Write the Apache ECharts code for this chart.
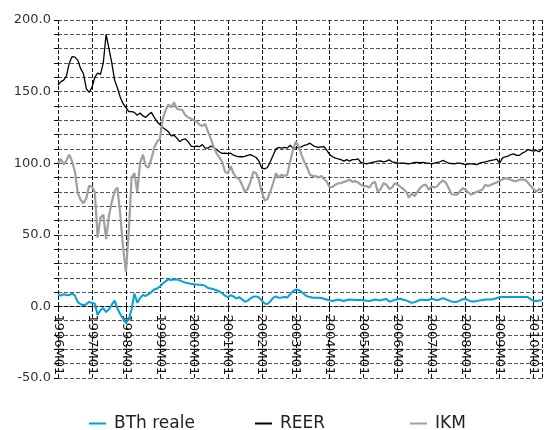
<!DOCTYPE html>
<html>
<head>
<meta charset="utf-8">
<script src="https://cdn.jsdelivr.net/npm/echarts@6/dist/echarts.min.js"></script>
<style>html,body{margin:0;padding:0;background:#fff;}#c{width:547px;height:430px;}</style>
</head>
<body>
<div id="c"></div>
<script>
// Monthly categories 1996M01 .. 2010M04
var startYear = 1996, endYear = 2010, endMonth = 4;
var categories = [];
for (var y = startYear; y <= endYear; y++) {
  for (var m = 1; m <= 12; m++) {
    if (y === endYear && m > endMonth) break;
    categories.push(y + 'M' + (m < 10 ? '0' + m : m));
  }
}

var bthReale = [
  8.2, 7.5, 8.5, 8, 7.8, 8.9, 7.5, 3, 1.5, 0.8, 1.5, 3.2,
  2.3, 2, -6, -2.5, -1.2, -4, -2, 1.2, 4, -1.5, -5.5, -8.5,
  -11.5, -9, -2, 9, 2.5, 5.8, 8, 7.3, 8.5, 10, 11.8, 12.5,
  13.8, 16, 17.5, 19, 18.5, 19, 18.8, 18.2, 17.3, 16.6, 16.2, 15.8,
  15.5, 15.3, 15.2, 15, 14.3, 12.8, 12.5, 12, 11.3, 10.5, 9.3, 7.5,
  6.5, 7.8, 7, 5.5, 6.5, 5, 3.2, 4, 5.5, 6.8, 7, 6.2,
  4, 2, 1.6, 3.5, 6, 7, 6, 6.2, 6.5, 6.2, 8.4, 10.5,
  11.8, 11.5, 10.2, 8.5, 7, 6.5, 6, 6, 6, 5.8, 5.3, 4.6,
  4.2, 3.8, 4.3, 4.8, 4.3, 3.8, 4.5, 4.8, 4.6, 4.4, 4.4, 4.5,
  4.3, 4, 3.7, 4.3, 4.8, 4.5, 4.3, 4.8, 5.2, 3.5, 3.8, 4.7,
  5, 5.3, 4.6, 4.2, 3.3, 2.5, 3, 3.8, 4.6, 4.6, 4.3, 4.7,
  5.3, 4.8, 4.3, 5, 5.8, 5, 4.2, 3.5, 3, 3.3, 4, 5,
  5.2, 4.2, 3.5, 3.5, 3.8, 4.2, 4.5, 4.8, 4.8, 4.8, 5.2, 5.8,
  6.3, 6.5, 6.5, 6.5, 6.5, 6.5, 6.5, 6.5, 6.5, 6.5, 6.5, 5,
  3.8, 3.8, 4.2, 4.2
];

var reer = [
  154.5, 157, 158, 161, 170, 174.5, 174, 172, 166, 162.5, 152, 149.5,
  153, 160, 163, 162, 170, 190, 180, 170, 158, 152.5, 146, 141.5,
  139, 136, 136, 135.5, 133.5, 135, 133, 132, 134, 135.5, 132, 129,
  127, 125, 123.5, 122, 119, 119.5, 117.5, 115, 116.5, 117, 115, 112,
  111.6, 112, 111.5, 113, 110.5, 110.5, 112, 111, 109.5, 108, 106.8, 107,
  106.7, 107, 105.6, 105, 104.5, 104.5, 104.7, 105.5, 106, 105, 104, 101.5,
  96.5, 96, 97, 101, 105.5, 110, 111, 110.5, 111, 110.5, 112.5, 110.5,
  110.7, 111, 111.4, 112.5, 113, 114, 112.5, 111.5, 111, 111.4, 111.5, 109,
  106, 104.5, 103.5, 103, 102.5, 101.5, 102.5, 101.5, 102.5, 102.5, 103, 100.5,
  100, 99.5, 100, 100.5, 101, 101.5, 101.6, 101, 101.5, 102.3, 101, 100.5,
  100, 100, 100, 99.8, 99.5, 100, 100.5, 100.5, 100.3, 100.5, 100, 100,
  99.5, 100, 100.5, 101, 102, 101, 100, 99.8, 99.5, 100, 100, 99.5,
  99, 99.5, 99.5, 99.3, 99, 100, 100.5, 101, 101.5, 102, 102.3, 102.8,
  100, 103.5, 104.5, 105, 106, 106.5, 105.5, 105.5, 107, 108, 109.5, 109,
  108.5, 109, 108, 110
];

var ikm = [
  100, 103, 99, 102, 106, 101, 94, 79, 74.5, 72, 75.5, 84.2,
  83.5, 80, 48, 62, 64, 47, 63, 73, 80.5, 83, 64, 41,
  24, 52, 90, 93, 80, 100, 106, 98, 97, 103, 111, 115,
  117, 131, 137, 141, 139, 142.5, 138, 137.5, 137, 133.5, 132, 131,
  130, 129, 127, 126, 127.5, 122, 117, 111.6, 107, 104, 101, 94,
  93, 98, 93, 90, 89, 85, 80, 82, 87, 94, 93, 88,
  80, 74, 75, 80, 86, 93, 90, 92, 91, 92, 101, 109,
  115, 112, 106, 101, 97, 92, 91, 91, 90, 91, 89, 87,
  83, 83.5, 85, 86, 86, 87, 87.5, 88.6, 87, 87.5, 86.5, 85,
  84, 84, 83, 86, 87, 80, 82, 86, 85, 82, 83, 86,
  85, 83.5, 82, 80, 76, 79, 77, 80, 83, 84.5, 85, 81.5,
  83.8, 83, 84, 86.5, 88, 86.5, 82.7, 78.5, 78, 78, 80.4, 82.5,
  81.5, 79.5, 78, 79, 80, 80.8, 81.8, 85, 84, 85, 85.8, 86.5,
  87.5, 88.7, 89.6, 89, 88.5, 87.5, 87.5, 88.5, 88.5, 88.5, 86.5, 84,
  82, 80, 82, 80.5
];

var seriesNames = ['BTh reale', 'REER', 'IKM'];
var yMin = -50, yMax = 200, yStep = 10, yLabelStep = 50;

var FONT = 'DejaVu Sans';
var gridTop = 20, gridBottom = 52, chartH = 430;
var plotH = chartH - gridTop - gridBottom;
// move the category axis up to the value 0 line
var zeroOffset = -plotH * (0 - yMin) / (yMax - yMin);
var lastIdx = categories.length - 1;

function legendAt(name, left) {
  return {
    data: [name], left: left, top: 410, orient: 'horizontal',
    icon: 'rect', itemWidth: 17, itemHeight: 2,
    textStyle: { fontFamily: FONT, fontSize: 17, color: '#222', padding: [0, 0, 0, 3] }
  };
}

var chart = echarts.init(document.getElementById('c'));
chart.setOption({
  animation: false,
  grid: { left: 58, right: 5, top: gridTop, bottom: gridBottom, outerBoundsMode: 'none' },
  legend: [legendAt(seriesNames[0], 84), legendAt(seriesNames[1], 250), legendAt(seriesNames[2], 405)],
  xAxis: {
    type: 'category', data: categories, boundaryGap: false, position: 'bottom', offset: zeroOffset,
    axisLine: { show: true, onZero: false, lineStyle: { color: '#000', type: 'dashed' } },
    axisTick: { show: true, interval: 11, length: 4, lineStyle: { color: '#000' } },
    axisLabel: { interval: 11, rotate: -90, margin: 8, padding: [0, 0, 6, 0],
      fontFamily: FONT, fontSize: 13, color: '#111' },
    splitLine: {
      show: true,
      interval: function (i) { return i % 12 === 0 || i === lastIdx; },
      lineStyle: { color: '#111', type: 'dashed' }
    }
  },
  yAxis: {
    type: 'value', min: yMin, max: yMax, interval: yStep,
    axisLine: { show: false },
    axisTick: { show: true, length: 4, lineStyle: { color: '#000' } },
    axisLabel: {
      margin: 7, fontFamily: FONT, fontSize: 13, color: '#333',
      formatter: function (v) { return (v % yLabelStep === 0) ? v.toFixed(1) : ''; }
    },
    splitLine: { show: true, lineStyle: { color: '#555', type: 'dashed' } }
  },
  series: [
    { name: seriesNames[0], type: 'line', data: bthReale, showSymbol: false,
      lineStyle: { color: '#00a0e3', width: 2 }, itemStyle: { color: '#00a0e3' } },
    { name: seriesNames[1], type: 'line', data: reer, showSymbol: false,
      lineStyle: { color: '#000', width: 1.3 }, itemStyle: { color: '#000' } },
    { name: seriesNames[2], type: 'line', data: ikm, showSymbol: false,
      lineStyle: { color: '#a0a0a0', width: 2.2 }, itemStyle: { color: '#a0a0a0' } }
  ]
});
</script>
</body>
</html>
